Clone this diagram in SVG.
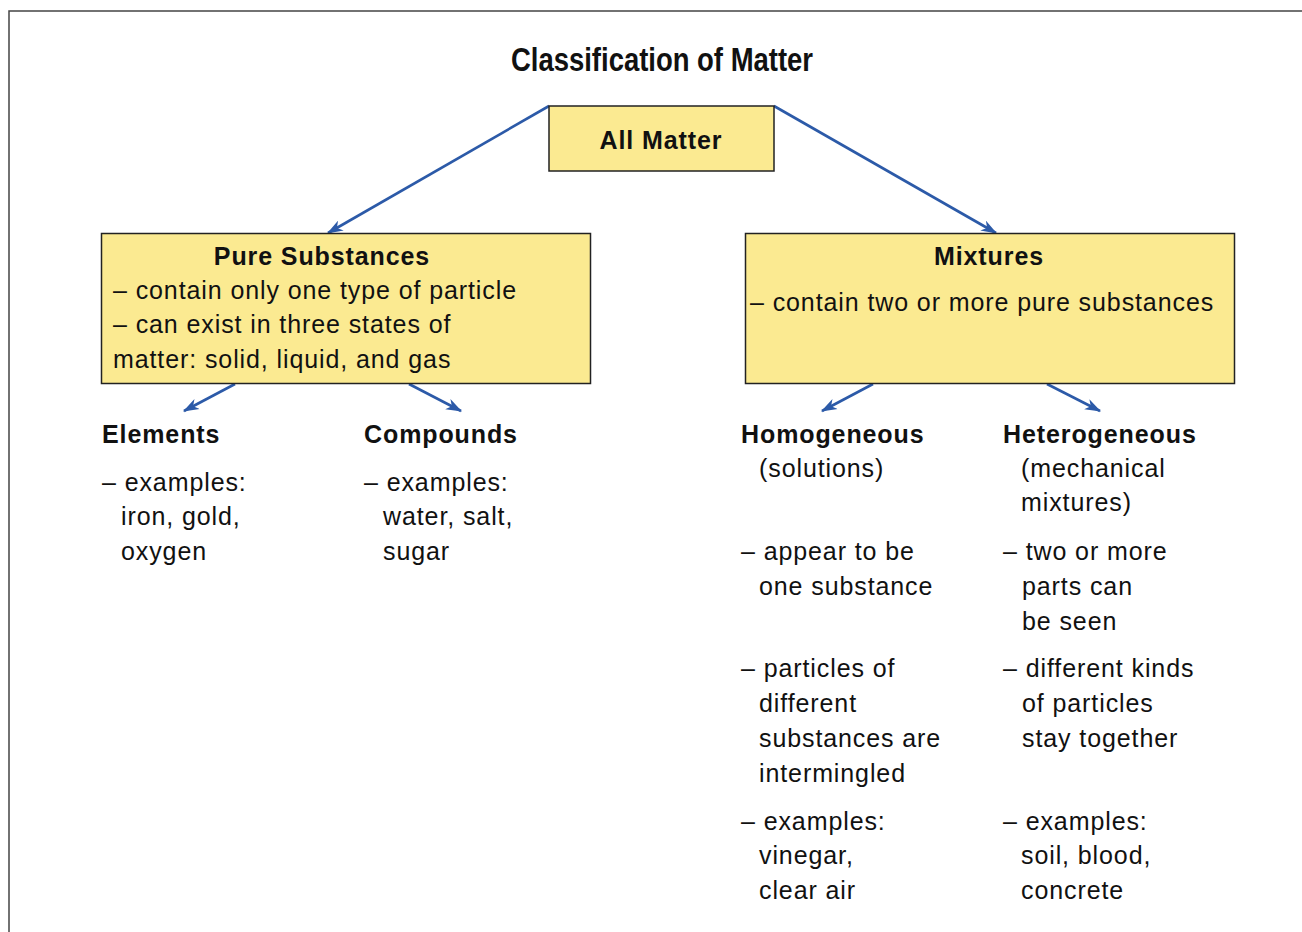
<svg xmlns="http://www.w3.org/2000/svg" width="1302" height="932" viewBox="0 0 1302 932">
<defs>
<style>
.box{fill:#fbea91;stroke:#222;stroke-width:1.5}
.t{font-family:"Liberation Sans",Arial,sans-serif;font-size:25px;letter-spacing:0.9px;fill:#111}
.b{font-weight:bold}
.c{text-anchor:middle}
.conn{stroke:#2c5aa8;stroke-width:2.6;fill:none}
</style>
<marker id="ah2" viewBox="0 0 14 10" refX="13" refY="5" markerWidth="16" markerHeight="12" orient="auto" markerUnits="userSpaceOnUse">
<path d="M0,0 L14,5 L0,10 L4,5 Z" fill="#2c5aa8"/>
</marker>
</defs>
<rect x="9" y="11" width="1300" height="930" fill="#fff" stroke="#444" stroke-width="1.5"/>
<text x="662" y="71" class="t b c" style="font-size:34px;letter-spacing:0" textLength="302" lengthAdjust="spacingAndGlyphs">Classification of Matter</text>
<g id="connectors">
<line class="conn" x1="549" y1="106" x2="328" y2="233" marker-end="url(#ah2)"/>
<line class="conn" x1="774" y1="106" x2="996" y2="233" marker-end="url(#ah2)"/>
<line class="conn" x1="235" y1="384" x2="184" y2="411" marker-end="url(#ah2)"/>
<line class="conn" x1="409" y1="384" x2="461" y2="411" marker-end="url(#ah2)"/>
<line class="conn" x1="873" y1="384" x2="822" y2="411" marker-end="url(#ah2)"/>
<line class="conn" x1="1047" y1="384" x2="1100" y2="411" marker-end="url(#ah2)"/>
</g>
<g id="all-matter">
<rect class="box" x="549" y="106" width="225" height="65"/>
<text x="661" y="149" class="t b c">All Matter</text>
</g>
<g id="pure-substances">
<rect class="box" x="101.5" y="233.5" width="489" height="150"/>
<text x="322" y="265" class="t b c">Pure Substances</text>
<text x="113" y="299" class="t">– contain only one type of particle</text>
<text x="113" y="333" class="t">– can exist in three states of</text>
<text x="113" y="368" class="t">matter: solid, liquid, and gas</text>
</g>
<g id="mixtures">
<rect class="box" x="745.5" y="233.5" width="489" height="150"/>
<text x="989" y="265" class="t b c">Mixtures</text>
<text x="750" y="311" class="t">– contain two or more pure substances</text>
</g>
<g id="elements">
<text x="102" y="443" class="t b">Elements</text>
<text x="102" y="491" class="t">– examples:</text>
<text x="121" y="525" class="t">iron, gold,</text>
<text x="121" y="560" class="t">oxygen</text>
</g>
<g id="compounds">
<text x="364" y="443" class="t b">Compounds</text>
<text x="364" y="491" class="t">– examples:</text>
<text x="383" y="525" class="t">water, salt,</text>
<text x="383" y="560" class="t">sugar</text>
</g>
<g id="homogeneous">
<text x="741" y="443" class="t b">Homogeneous</text>
<text x="759" y="477" class="t">(solutions)</text>
<text x="741" y="560" class="t">– appear to be</text>
<text x="759" y="595" class="t">one substance</text>
<text x="741" y="677" class="t">– particles of</text>
<text x="759" y="712" class="t">different</text>
<text x="759" y="747" class="t">substances are</text>
<text x="759" y="782" class="t">intermingled</text>
<text x="741" y="830" class="t">– examples:</text>
<text x="759" y="864" class="t">vinegar,</text>
<text x="759" y="899" class="t">clear air</text>
</g>
<g id="heterogeneous">
<text x="1003" y="443" class="t b">Heterogeneous</text>
<text x="1021" y="477" class="t">(mechanical</text>
<text x="1021" y="511" class="t">mixtures)</text>
<text x="1003" y="560" class="t">– two or more</text>
<text x="1022" y="595" class="t">parts can</text>
<text x="1022" y="630" class="t">be seen</text>
<text x="1003" y="677" class="t">– different kinds</text>
<text x="1022" y="712" class="t">of particles</text>
<text x="1022" y="747" class="t">stay together</text>
<text x="1003" y="830" class="t">– examples:</text>
<text x="1021" y="864" class="t">soil, blood,</text>
<text x="1021" y="899" class="t">concrete</text>
</g>
</svg>
